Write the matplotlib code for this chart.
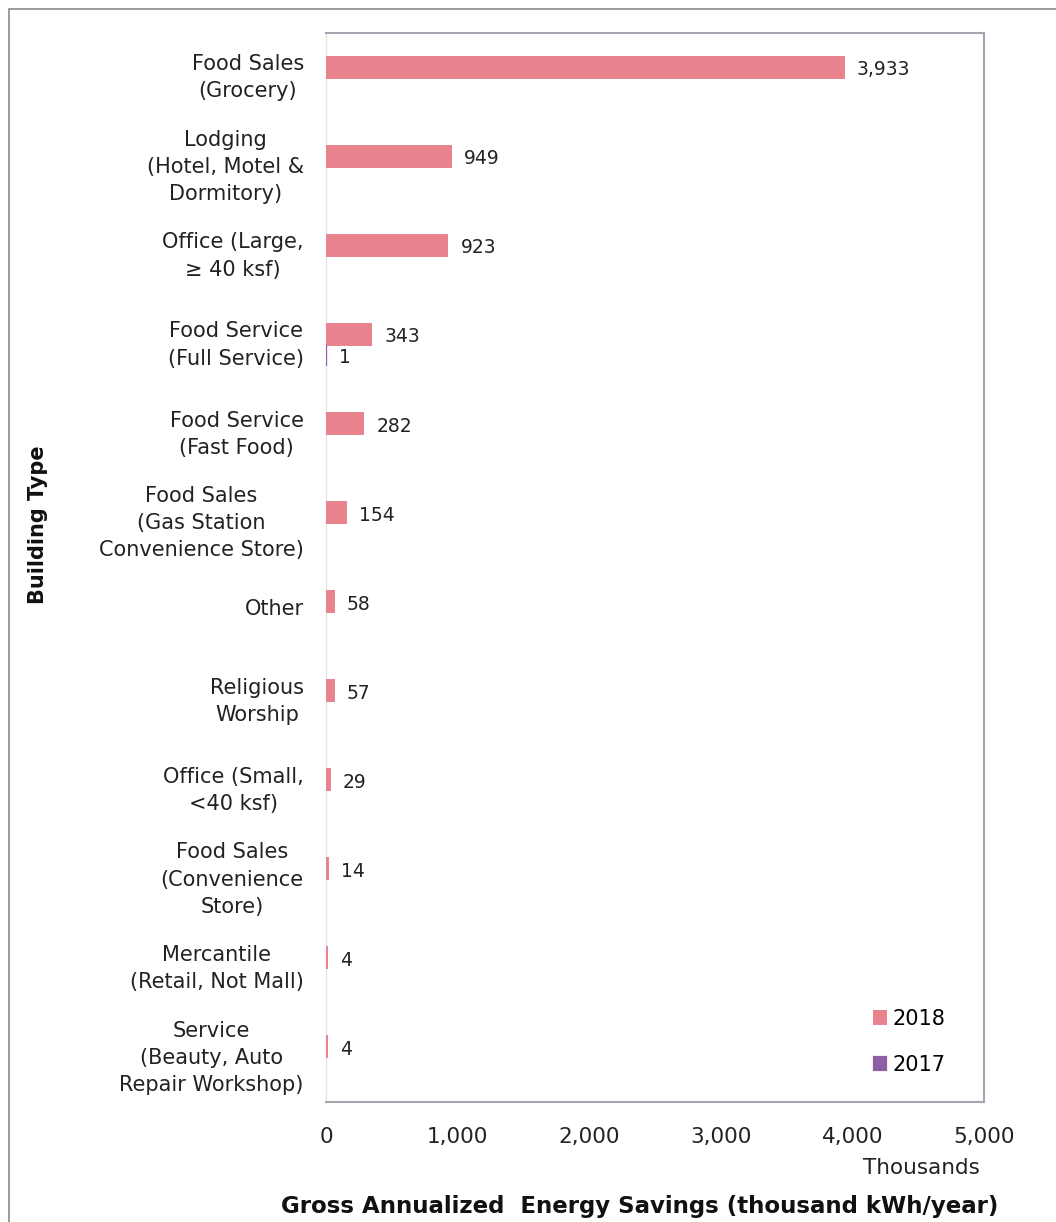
import matplotlib.pyplot as plt
import numpy as np
from matplotlib.patches import Rectangle
from matplotlib.ticker import FuncFormatter

# building types, top to bottom
categories = [
    "Food Sales\n(Grocery)",
    "Lodging\n(Hotel, Motel &\nDormitory)",
    "Office (Large,\n\u2265 40 ksf)",
    "Food Service\n(Full Service)",
    "Food Service\n(Fast Food)",
    "Food Sales\n(Gas Station\nConvenience Store)",
    "Other",
    "Religious\nWorship",
    "Office (Small,\n<40 ksf)",
    "Food Sales\n(Convenience\nStore)",
    "Mercantile\n(Retail, Not Mall)",
    "Service\n(Beauty, Auto\nRepair Workshop)",
]
savings_2018 = [3933, 949, 923, 343, 282, 154, 58, 57, 29, 14, 4, 4]
savings_2017 = [0, 0, 0, 1, 0, 0, 0, 0, 0, 0, 0, 0]
x_ticks = [0, 1000, 2000, 3000, 4000, 5000]

c2018 = "#E8838E"
c2017 = "#8E5EA2"
frame = "#A8A3B0"

fig = plt.figure(figsize=(10.56, 12.22), dpi=100)
fig.patches.append(Rectangle((9 / 1056, -0.05), 1.1, 1 - 9 / 1222 + 0.05,
                             transform=fig.transFigure, fill=False,
                             edgecolor="#8A8A8A", linewidth=1.2))

ax = fig.add_axes([326 / 1056, 1 - 1102 / 1222, (984 - 326) / 1056, (1102 - 33) / 1222])

y = np.arange(len(categories))
h = 0.236
# thin edge so the tiny values still show as a sliver
ax.barh(y - h / 2, savings_2018, height=h, color=c2018, label="2018",
        edgecolor=c2018, linewidth=1.4, zorder=3)
# the 2017 series only has one non-zero value
mask = np.array(savings_2017) > 0
ax.barh(y[mask] + h / 2, np.array(savings_2017)[mask], height=h, color=c2017,
        label="2017", edgecolor=c2017, linewidth=1.6, zorder=3)

for i, v in enumerate(savings_2018):
    ax.text(v + 100, i - h / 2 + 0.03, f"{v:,}", va="center", ha="left",
            fontsize=13.5, color="#222222")
for i, v in zip(y[mask], np.array(savings_2017)[mask]):
    ax.text(v + 100, i + h / 2 + 0.03, f"{v:,}", va="center", ha="left",
            fontsize=13.5, color="#222222")

ax.set_ylim(len(categories) - 0.5, -0.5)
ax.set_xlim(0, 5000)
ax.set_xticks(x_ticks)
ax.xaxis.set_major_formatter(FuncFormatter(lambda v, p: f"{int(v):,}"))
ax.set_yticks(y - 0.06)
ax.set_yticklabels(categories)
for lab in ax.get_yticklabels():
    lab.set_multialignment("center")
    lab.set_fontsize(15)
    lab.set_linespacing(1.45)
    lab.set_color("#222222")
ax.tick_params(axis="y", length=0, pad=16)
ax.tick_params(axis="x", length=0, pad=18, labelsize=15.5, labelcolor="#222222")

for s in ["top", "right", "bottom"]:
    ax.spines[s].set_color(frame)
    ax.spines[s].set_linewidth(1.5)
ax.spines["left"].set_color("#E6E6E6")
ax.spines["left"].set_linewidth(1)
ax.spines["left"].set_zorder(1)

ax.text(0.994, -0.052, "Thousands", transform=ax.transAxes, ha="right",
        va="top", fontsize=15.5, color="#222222")
fig.text(640 / 1056, 1 - 1207 / 1222, "Gross Annualized  Energy Savings (thousand kWh/year)",
         ha="center", va="center", fontsize=16.5, fontweight="bold", color="#111111")
fig.text(38 / 1056, 1 - 525 / 1222, "Building Type", rotation=90,
         ha="center", va="center", fontsize=15, fontweight="bold", color="#111111")

ax.legend(loc="lower right", frameon=False, fontsize=15, handlelength=0.6,
          handleheight=0.6, handletextpad=0.3, labelspacing=1.25,
          bbox_to_anchor=(0.97, 0.008))

fig.savefig("out.png", dpi=100)
